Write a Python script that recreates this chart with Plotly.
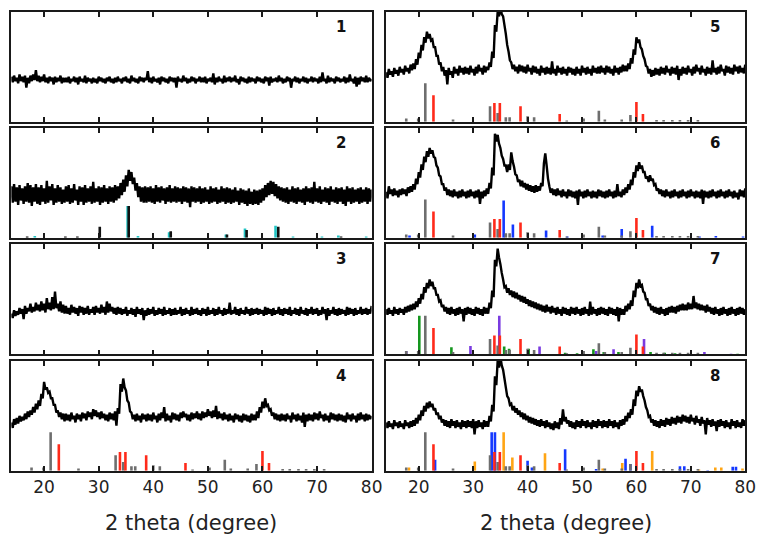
import plotly.graph_objects as go

# Scan grid: 2-theta from 14 to 80 degrees in 0.25 degree steps
SCAN_START, SCAN_STEP, SCAN_POINTS = 14.0, 0.25, 265
two_theta = [SCAN_START + SCAN_STEP * i for i in range(SCAN_POINTS)]

# Measured intensities (percent of panel height); each row spans 5 degrees
pattern_1 = [41, 36, 42, 37, 40, 35, 43, 37, 41, 36, 42, 31, 40, 35, 42, 37, 43, 38, 47, 37,
             42, 36, 41, 37, 43, 36, 40, 35, 41, 37, 40, 34, 41, 36, 40, 37, 42, 35, 40, 36,
             40, 36, 41, 35, 39, 37, 41, 36, 40, 34, 41, 37, 39, 36, 42, 35, 40, 37, 39, 35,
             40, 36, 39, 35, 41, 37, 40, 36, 39, 35, 40, 37, 41, 36, 39, 35, 40, 36, 41, 37,
             39, 35, 40, 37, 41, 36, 39, 35, 42, 37, 40, 36, 39, 35, 41, 37, 40, 36, 40, 38,
             46, 36, 40, 35, 41, 37, 39, 36, 40, 34, 41, 37, 40, 36, 39, 35, 41, 37, 40, 36,
             40, 31, 41, 37, 39, 36, 42, 37, 40, 35, 39, 36, 41, 37, 40, 35, 39, 37, 41, 36,
             40, 36, 41, 35, 39, 37, 40, 36, 44, 34, 40, 36, 41, 37, 39, 35, 42, 36, 40, 37,
             41, 36, 40, 37, 42, 36, 39, 34, 41, 37, 40, 36, 39, 35, 41, 36, 40, 37, 39, 35,
             41, 37, 40, 36, 39, 35, 41, 37, 40, 33, 41, 36, 39, 37, 40, 36, 42, 37, 40, 35,
             39, 36, 41, 37, 40, 31, 39, 37, 41, 36, 40, 35, 39, 37, 41, 36, 40, 35, 39, 37,
             41, 36, 40, 37, 39, 35, 41, 36, 45, 37, 39, 35, 42, 36, 40, 37, 39, 35, 41, 37,
             40, 36, 39, 37, 41, 35, 40, 36, 43, 37, 39, 35, 41, 32, 40, 34, 41, 37, 40, 36,
             42, 36, 40, 37, 39]
pattern_2 = [47, 32, 49, 33, 46, 30, 48, 34, 45, 31, 47, 33, 50, 32, 48, 29, 46, 33, 49, 31,
             46, 30, 48, 33, 45, 31, 52, 32, 47, 34, 49, 30, 45, 32, 48, 33, 46, 31, 44, 32,
             47, 33, 48, 31, 45, 32, 49, 34, 44, 30, 47, 33, 46, 30, 48, 32, 45, 33, 47, 31,
             51, 32, 45, 33, 47, 30, 46, 32, 48, 33, 45, 31, 47, 33, 46, 32, 48, 34, 47, 36,
             50, 39, 53, 42, 57, 47, 62, 52, 60, 49, 55, 43, 50, 37, 47, 33, 46, 32, 47, 32,
             46, 33, 47, 32, 45, 31, 48, 33, 46, 32, 47, 34, 45, 31, 46, 33, 48, 32, 45, 33,
             47, 32, 46, 33, 45, 31, 47, 33, 46, 32, 45, 28, 47, 33, 46, 32, 45, 33, 47, 31,
             45, 32, 46, 33, 44, 31, 47, 32, 45, 33, 46, 31, 44, 32, 47, 33, 45, 31, 46, 32,
             45, 31, 44, 32, 46, 33, 43, 30, 45, 32, 44, 31, 43, 29, 45, 31, 42, 30, 44, 31,
             43, 30, 44, 32, 45, 34, 48, 37, 50, 39, 52, 40, 51, 38, 49, 36, 47, 34, 46, 33,
             45, 32, 46, 31, 44, 33, 47, 32, 45, 31, 46, 33, 44, 32, 45, 30, 47, 33, 45, 32,
             46, 31, 51, 33, 45, 32, 47, 31, 44, 33, 46, 32, 45, 30, 47, 33, 44, 32, 46, 31,
             45, 33, 46, 31, 44, 29, 47, 33, 45, 31, 46, 32, 44, 33, 45, 31, 46, 32, 44, 33,
             46, 31, 45, 33, 44]
pattern_3 = [37, 33, 40, 35, 39, 36, 42, 37, 41, 32, 44, 37, 42, 39, 46, 38, 43, 39, 47, 40,
             45, 39, 48, 40, 46, 38, 51, 41, 47, 40, 52, 41, 57, 42, 46, 39, 48, 38, 45, 37,
             44, 37, 42, 36, 45, 38, 43, 37, 42, 35, 44, 38, 43, 36, 42, 37, 44, 36, 41, 38,
             43, 36, 44, 38, 42, 37, 45, 38, 43, 36, 48, 38, 46, 39, 43, 37, 42, 36, 43, 37,
             42, 36, 41, 37, 43, 35, 40, 37, 42, 36, 41, 34, 43, 37, 41, 36, 42, 31, 40, 35,
             42, 36, 41, 37, 43, 35, 40, 36, 42, 37, 41, 35, 43, 36, 40, 37, 42, 35, 41, 36,
             42, 36, 40, 37, 43, 35, 41, 36, 42, 37, 40, 35, 43, 36, 41, 37, 42, 36, 40, 35,
             42, 37, 41, 35, 43, 36, 40, 37, 42, 35, 41, 36, 43, 37, 40, 35, 42, 36, 41, 37,
             47, 36, 40, 37, 43, 36, 41, 35, 42, 37, 40, 36, 43, 37, 41, 35, 42, 36, 41, 37,
             42, 36, 41, 37, 40, 35, 43, 36, 42, 37, 41, 35, 42, 36, 40, 37, 43, 36, 41, 35,
             42, 37, 41, 36, 43, 35, 40, 37, 42, 36, 41, 35, 43, 37, 40, 36, 42, 35, 41, 37,
             43, 36, 41, 37, 42, 35, 40, 36, 43, 37, 41, 31, 42, 35, 40, 37, 43, 36, 41, 35,
             42, 36, 41, 37, 40, 35, 43, 36, 42, 37, 41, 35, 42, 36, 40, 37, 43, 36, 41, 37,
             42, 36, 41, 37, 44]
pattern_4 = [44, 39, 47, 42, 48, 43, 50, 45, 49, 46, 52, 47, 54, 49, 55, 51, 58, 53, 61, 56,
             64, 59, 70, 66, 81, 74, 76, 71, 72, 66, 66, 60, 60, 53, 55, 49, 53, 47, 52, 45,
             52, 46, 51, 45, 53, 47, 50, 44, 52, 47, 51, 45, 53, 48, 52, 46, 54, 49, 53, 47,
             56, 50, 55, 49, 53, 47, 54, 48, 52, 46, 51, 45, 53, 47, 52, 46, 54, 41, 57, 52,
             79, 72, 84, 76, 73, 64, 62, 54, 53, 47, 51, 45, 52, 46, 50, 44, 52, 47, 51, 45,
             52, 46, 51, 45, 53, 47, 50, 44, 52, 46, 53, 48, 58, 45, 52, 46, 50, 44, 53, 47,
             52, 46, 51, 45, 53, 48, 54, 49, 52, 46, 51, 45, 53, 47, 52, 48, 54, 47, 52, 46,
             54, 48, 53, 49, 56, 50, 54, 48, 55, 49, 59, 47, 54, 48, 52, 46, 53, 47, 51, 45,
             52, 46, 50, 44, 52, 47, 51, 45, 50, 44, 52, 46, 51, 45, 50, 44, 52, 46, 51, 46,
             54, 48, 58, 53, 63, 57, 66, 59, 60, 55, 56, 50, 53, 47, 52, 46, 51, 45, 52, 46,
             51, 45, 52, 47, 50, 44, 53, 47, 51, 45, 52, 46, 50, 44, 53, 40, 51, 45, 52, 46,
             51, 45, 53, 47, 52, 46, 54, 48, 51, 45, 52, 46, 50, 44, 53, 47, 52, 46, 51, 45,
             52, 46, 51, 45, 50, 44, 53, 47, 51, 45, 52, 47, 50, 44, 52, 46, 53, 47, 51, 45,
             52, 46, 51, 47, 50]
pattern_5 = [45, 40, 48, 43, 46, 41, 49, 44, 47, 42, 50, 45, 48, 43, 51, 46, 49, 44, 52, 47,
             53, 48, 57, 52, 63, 58, 70, 65, 77, 72, 82, 76, 80, 74, 75, 68, 68, 60, 60, 52,
             54, 46, 50, 42, 47, 34, 49, 43, 46, 40, 50, 44, 48, 42, 51, 45, 49, 43, 50, 44,
             49, 43, 51, 45, 48, 42, 50, 44, 52, 46, 49, 43, 51, 45, 50, 47, 54, 50, 64, 58,
             88, 82, 100, 96, 106, 98, 96, 88, 80, 70, 64, 56, 54, 48, 52, 46, 50, 44, 52, 46,
             51, 45, 50, 44, 52, 46, 49, 43, 51, 45, 50, 44, 48, 42, 51, 45, 49, 43, 50, 44,
             49, 43, 55, 44, 48, 42, 51, 45, 49, 43, 50, 44, 48, 42, 50, 45, 49, 43, 48, 42,
             50, 44, 48, 42, 51, 45, 49, 43, 50, 44, 48, 42, 51, 45, 49, 44, 50, 44, 51, 45,
             49, 43, 51, 45, 50, 44, 48, 42, 51, 45, 49, 43, 50, 45, 52, 46, 51, 46, 53, 48,
             58, 53, 66, 61, 77, 72, 75, 68, 66, 60, 57, 51, 50, 44, 48, 41, 47, 42, 49, 43,
             48, 42, 50, 44, 49, 43, 51, 45, 48, 42, 50, 44, 49, 43, 51, 38, 48, 42, 50, 44,
             49, 43, 51, 45, 48, 42, 50, 44, 52, 46, 49, 43, 51, 45, 48, 42, 50, 44, 49, 43,
             56, 45, 49, 43, 50, 44, 52, 46, 48, 42, 51, 45, 50, 44, 49, 43, 52, 46, 50, 44,
             51, 45, 49, 44, 52]
pattern_6 = [42, 36, 47, 40, 44, 38, 45, 39, 43, 37, 44, 39, 45, 40, 44, 38, 46, 41, 47, 42,
             49, 44, 54, 49, 60, 55, 67, 62, 74, 69, 79, 74, 82, 77, 80, 74, 73, 66, 64, 57,
             56, 49, 49, 43, 46, 39, 44, 38, 43, 37, 44, 38, 42, 36, 43, 37, 44, 38, 42, 36,
             43, 37, 44, 38, 42, 36, 43, 37, 44, 31, 42, 36, 43, 38, 45, 40, 50, 45, 64, 57,
             95, 88, 94, 86, 82, 75, 72, 66, 66, 60, 67, 62, 78, 70, 65, 58, 57, 51, 53, 47,
             52, 46, 50, 44, 49, 43, 48, 42, 47, 41, 48, 42, 47, 43, 50, 47, 68, 77, 66, 54,
             47, 41, 45, 39, 44, 38, 45, 39, 43, 37, 44, 38, 42, 36, 44, 38, 43, 37, 42, 36,
             43, 30, 44, 38, 42, 36, 43, 37, 44, 38, 42, 36, 43, 37, 42, 36, 44, 38, 43, 37,
             42, 36, 43, 37, 44, 38, 42, 36, 43, 37, 49, 38, 42, 37, 44, 39, 46, 41, 49, 44,
             53, 48, 60, 55, 66, 61, 69, 63, 66, 60, 60, 54, 56, 51, 57, 52, 54, 48, 49, 43,
             45, 40, 44, 38, 43, 37, 44, 38, 42, 36, 43, 37, 44, 38, 42, 36, 43, 37, 44, 38,
             42, 36, 43, 37, 44, 38, 42, 36, 43, 37, 42, 36, 44, 31, 43, 37, 42, 36, 43, 37,
             44, 38, 42, 36, 43, 37, 44, 38, 42, 36, 43, 37, 44, 38, 42, 36, 43, 37, 41, 35,
             44, 38, 43, 37, 45]
pattern_7 = [41, 36, 42, 37, 40, 35, 43, 37, 41, 36, 42, 38, 41, 36, 43, 38, 44, 39, 45, 40,
             46, 41, 48, 43, 51, 46, 55, 50, 61, 56, 65, 60, 68, 62, 66, 60, 60, 54, 54, 48,
             49, 43, 45, 39, 43, 37, 42, 36, 43, 37, 41, 35, 42, 36, 43, 37, 41, 30, 42, 36,
             43, 37, 42, 36, 41, 35, 43, 37, 42, 36, 41, 35, 43, 37, 42, 37, 47, 42, 58, 52,
             86, 80, 96, 88, 82, 74, 68, 61, 62, 56, 60, 54, 58, 52, 57, 51, 56, 50, 54, 48,
             53, 47, 52, 46, 50, 44, 49, 43, 48, 42, 47, 41, 46, 40, 45, 39, 44, 38, 45, 39,
             43, 37, 44, 38, 42, 36, 43, 37, 41, 35, 43, 37, 42, 36, 41, 35, 43, 37, 42, 36,
             43, 37, 41, 35, 42, 36, 43, 37, 41, 35, 48, 36, 43, 37, 41, 35, 42, 36, 43, 37,
             42, 36, 41, 35, 43, 37, 42, 36, 41, 35, 43, 30, 42, 36, 41, 36, 44, 39, 46, 41,
             49, 44, 58, 52, 65, 60, 68, 62, 63, 57, 56, 50, 50, 44, 46, 40, 44, 38, 43, 37,
             42, 36, 43, 37, 41, 35, 42, 36, 43, 38, 44, 38, 43, 37, 44, 39, 45, 40, 46, 40,
             45, 40, 47, 41, 46, 41, 53, 42, 47, 41, 46, 40, 45, 40, 44, 38, 45, 39, 43, 37,
             42, 36, 43, 37, 41, 35, 42, 36, 43, 37, 41, 35, 42, 36, 43, 37, 41, 35, 42, 36,
             43, 37, 42, 36, 41]
pattern_8 = [44, 39, 45, 40, 43, 38, 46, 41, 44, 39, 45, 40, 43, 38, 46, 41, 44, 39, 45, 40,
             46, 41, 48, 43, 51, 46, 55, 50, 59, 54, 62, 57, 63, 58, 61, 55, 57, 51, 53, 47,
             50, 44, 47, 41, 46, 40, 45, 39, 47, 41, 45, 39, 46, 40, 44, 38, 46, 40, 45, 39,
             46, 40, 45, 39, 47, 33, 45, 39, 46, 40, 44, 38, 46, 40, 45, 40, 50, 45, 60, 54,
             86, 78, 100, 94, 104, 96, 92, 84, 76, 68, 66, 60, 61, 55, 59, 53, 57, 51, 55, 49,
             53, 47, 52, 46, 50, 44, 49, 43, 48, 42, 47, 41, 46, 40, 47, 41, 45, 39, 46, 40,
             44, 38, 43, 37, 45, 39, 44, 38, 48, 42, 56, 45, 49, 43, 46, 40, 45, 39, 44, 38,
             46, 40, 45, 39, 47, 41, 45, 39, 46, 40, 44, 38, 46, 40, 45, 39, 47, 41, 45, 39,
             46, 40, 45, 39, 47, 41, 45, 39, 46, 40, 44, 38, 46, 41, 47, 42, 50, 45, 53, 48,
             56, 51, 65, 59, 73, 68, 77, 72, 74, 68, 64, 58, 55, 49, 50, 44, 47, 41, 46, 40,
             45, 39, 47, 41, 46, 40, 48, 42, 47, 41, 49, 43, 48, 42, 50, 44, 49, 43, 51, 45,
             50, 44, 49, 43, 51, 45, 48, 42, 50, 44, 47, 41, 49, 43, 46, 33, 48, 42, 46, 40,
             47, 41, 45, 36, 46, 40, 47, 41, 45, 39, 46, 40, 44, 38, 47, 41, 45, 39, 46, 40,
             44, 39, 47, 41, 46]

# Reference stick patterns: positions (degree) and relative heights
gray_pos = [17.7, 19.9, 21.2, 26.3, 33.1, 34.5, 36.0, 36.7, 40.0, 41.2, 47.2,
            50.3, 53.1, 54.2, 57.3, 58.9, 63.7, 65.0, 66.6, 68.0, 69.5, 71.3]
gray_int = [3, 3, 35, 2, 14, 8, 4, 4, 5, 4, 1,
            3, 10, 2, 2, 6, 1.5, 1.5, 1.5, 1.5, 1.5, 1.5]
red_pos = [22.7, 33.9, 34.9, 38.7, 45.9, 60.0, 61.2]
red_int = [24, 17, 17, 14, 7, 18, 7]

black_pos = [16.9, 23.9, 26.1, 30.2, 35.5, 43.2, 53.5, 57.1, 62.9, 74.4]
black_int = [1, 1, 1, 10, 29, 6, 3, 7, 10, 1]
cyan_pos = [18.3, 35.3, 37.2, 42.9, 53.3, 56.8, 62.4, 65.6, 70.9, 73.9, 79.0]
cyan_int = [1.5, 29, 1.5, 5, 3, 8.5, 11, 1, 1, 2, 1]

blue6_pos = [18.3, 30.3, 35.6, 37.3, 43.4, 47.3, 53.8, 57.3, 62.9, 71.6, 74.6, 79.6]
blue6_int = [2, 3, 34, 12, 6.5, 1, 2, 8, 11, 1, 1.5, 1]

green_pos = [20.1, 26.0, 35.7, 36.6, 40.2, 46.9, 49.1, 52.1, 54.0, 56.7,
             62.6, 65.2, 67.1, 78.6]
green_int = [35, 6.4, 7, 5, 5, 1.5, 1, 4.5, 2, 2, 2, 1.5, 1, 0.5]
purple_pos = [17.7, 29.5, 34.8, 42.2, 52.6, 55.8, 61.4, 72.5, 77.4]
purple_int = [3, 7.5, 35, 7, 3, 4.5, 14, 2, 0.5]

blue8_pos = [23.0, 33.4, 34.0, 40.0, 40.8, 46.9, 52.6, 58.0, 58.9, 68.0,
             68.8, 73.1, 77.7, 78.3]
blue8_int = [10, 35, 35, 9, 3, 19.5, 1.5, 11, 6, 4, 4, 0.5, 3.5, 3.5]
orange_pos = [18.2, 30.3, 35.6, 37.2, 43.2, 53.8, 57.4, 62.9, 71.5, 74.5, 75.6, 79.5]
orange_int = [3, 8.5, 35, 12, 16, 2, 7, 18, 1, 3, 3, 2]

panel_labels = ["1", "2", "3", "4", "5", "6", "7", "8"]
tick_values = [20, 30, 40, 50, 60, 70, 80]
axis_title = "2 theta (degree)"

GRAY, RED, BLACK, CYAN = "#6e6e6e", "#ff2a1a", "#111111", "#21c4c4"
BLUE, GREEN, PURPLE, ORANGE = "#1438ff", "#14961e", "#7a3be0", "#ffa514"

phase = {
    "gray": (gray_pos, gray_int, GRAY), "red": (red_pos, red_int, RED),
    "black": (black_pos, black_int, BLACK), "cyan": (cyan_pos, cyan_int, CYAN),
    "blue6": (blue6_pos, blue6_int, BLUE), "green": (green_pos, green_int, GREEN),
    "purple": (purple_pos, purple_int, PURPLE), "blue8": (blue8_pos, blue8_int, BLUE),
    "orange": (orange_pos, orange_int, ORANGE),
}

# panel: (pattern, stick sets drawn back to front, column, row)
panels = [
    (pattern_1, [], 0, 0),
    (pattern_2, ["cyan", "black"], 0, 1),
    (pattern_3, [], 0, 2),
    (pattern_4, ["gray", "red"], 0, 3),
    (pattern_5, ["gray", "red"], 1, 0),
    (pattern_6, ["blue6", "gray", "red"], 1, 1),
    (pattern_7, ["green", "purple", "gray", "red"], 1, 2),
    (pattern_8, ["blue8", "orange", "gray", "red"], 1, 3),
]
for pattern, *_ in panels:
    assert len(pattern) == SCAN_POINTS, len(pattern)

W, H = 772, 537
col_px = [(11.5, 377.0), (391.7, 756.0)]
row_px = [(12.0, 121.7), (128.3, 237.7), (244.3, 354.3), (361.0, 470.7)]

FONT = "DejaVu Sans, Verdana, sans-serif"
fig = go.Figure()
layout = dict(width=W, height=H, margin=dict(l=0, r=0, t=0, b=0),
              paper_bgcolor="white", plot_bgcolor="white", showlegend=False,
              annotations=[])

for k, (pattern, sticks, col, row) in enumerate(panels, start=1):
    xa, ya = ("x" if k == 1 else f"x{k}"), ("y" if k == 1 else f"y{k}")
    for name in sticks:
        pos, inten, color = phase[name]
        sx, sy = [], []
        for p, h in zip(pos, inten):
            sx += [p, p, None]
            sy += [0, h, None]
        fig.add_trace(go.Scatter(x=sx, y=sy, mode="lines", xaxis=xa, yaxis=ya,
                                 line=dict(color=color, width=2.6),
                                 hoverinfo="skip", cliponaxis=True))
    fig.add_trace(go.Scatter(x=two_theta, y=pattern, mode="lines", xaxis=xa, yaxis=ya,
                             line=dict(color="black", width=2.4, simplify=False),
                             cliponaxis=True))

    x0, x1 = col_px[col]
    y0, y1 = row_px[row]
    bottom_row = row == 3
    layout["xaxis" if k == 1 else f"xaxis{k}"] = dict(
        domain=[x0 / W, x1 / W], range=[14, 80], anchor=ya,
        showline=True, linecolor="#1a1a1a", linewidth=1.6, mirror="ticks",
        ticks="inside", ticklen=5, tickwidth=1.5, tickcolor="#1a1a1a",
        tickvals=tick_values, showticklabels=bottom_row, showgrid=False,
        zeroline=False, tickfont=dict(family=FONT, size=17, color="#222222"))
    layout["yaxis" if k == 1 else f"yaxis{k}"] = dict(
        domain=[1 - y1 / H, 1 - y0 / H], range=[0, 100], anchor=xa,
        showline=True, linecolor="#1a1a1a", linewidth=1.6, mirror=True,
        ticks="", showticklabels=False, showgrid=False, zeroline=False)
    layout["annotations"].append(dict(
        x=(x1 - 24) / W, y=1 - (y0 + 15) / H, xref="paper", yref="paper",
        xanchor="right", yanchor="middle", showarrow=False,
        text=f"<b>{panel_labels[k - 1]}</b>",
        font=dict(family=FONT, size=15, color="#111111")))

for col in range(2):
    x0, x1 = col_px[col]
    layout["annotations"].append(dict(
        x=(x0 + x1) / 2 / W, y=1 - 523 / H, xref="paper", yref="paper",
        xanchor="center", yanchor="middle", showarrow=False, text=axis_title,
        font=dict(family=FONT, size=21, color="#222222")))

fig.update_layout(**layout)
fig.write_html("out.html")
